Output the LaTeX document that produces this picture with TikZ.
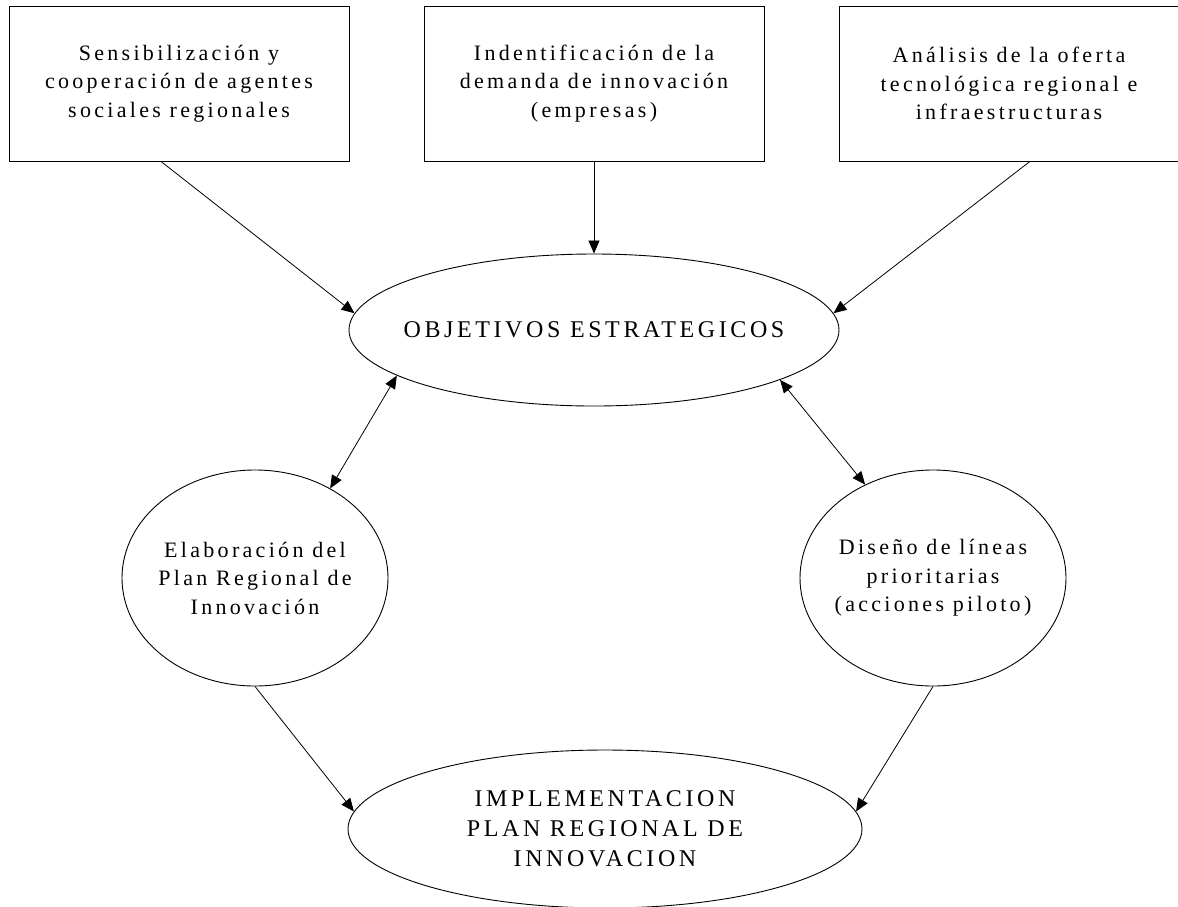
\documentclass[tikz,border=0pt]{standalone}
\usepackage{fontspec}
\setmainfont{Liberation Serif}[LetterSpace=15]
\usetikzlibrary{arrows.meta,positioning,shapes.geometric}

\begin{document}
\begin{tikzpicture}[x=1pt,y=-1pt,
  box/.style={draw,line width=0.9pt,minimum width=340pt,minimum height=155pt,
              inner sep=0pt,align=center},
  oval/.style={draw,ellipse,line width=0.9pt,inner xsep=-20pt,inner ysep=0pt,
               align=center},
  caps/.style={font=\fontsize{24}{30}\selectfont},
  arr/.style={-{Triangle[length=13pt,width=11pt]},line width=0.8pt},
  dbl/.style={{Triangle[length=13pt,width=11pt]}-{Triangle[length=13pt,width=11pt]},line width=0.8pt},
  font=\fontsize{22}{28.5}\selectfont
]
\useasboundingbox (0,0) rectangle (1178,906);

% ---- Top row: inputs ----------------------------------------
\node[box] (sens) at (179,83.5)
  {Sensibilización y\\cooperación de agentes\\sociales regionales};
\node[box] (dem) at (594,83.5)
  {Indentificación de la\\demanda de innovación\\(empresas)};
\node[box] (ofer) at (1009,83.5)
  {Análisis de la oferta\\tecnológica regional e\\infraestructuras};

% ---- Objectives ---------------------------------------------
\node[oval,caps,minimum width=490pt,minimum height=152pt] (obj) at (594,330)
  {OBJETIVOS ESTRATEGICOS};

% ---- Plan and lines -----------------------------------------
\node[oval,minimum width=266pt,minimum height=216pt] (elab) at (255,578)
  {Elaboración del\\Plan Regional de\\Innovación};
\node[oval,minimum width=266pt,minimum height=216pt] (dis) at (933,578)
  {Diseño de líneas\\prioritarias\\(acciones piloto)};

% ---- Implementation -----------------------------------------
\node[oval,caps,minimum width=514pt,minimum height=158pt] (impl) at (605,829)
  {IMPLEMENTACION\\PLAN REGIONAL DE\\INNOVACION};

% Connectors
\draw[arr] (sens.257) -- (obj.176);
\draw[arr] (dem.south) -- (obj.north);
\draw[arr] (ofer.285) -- (obj.4);
\draw[dbl] (obj.193.5) -- (elab.50.5);
\draw[dbl] (obj.345.5) -- (dis.126.3);
\draw[arr] (elab.south) -- (impl.176);
\draw[arr] (dis.south) -- (impl.4);

\end{tikzpicture}
\end{document}
